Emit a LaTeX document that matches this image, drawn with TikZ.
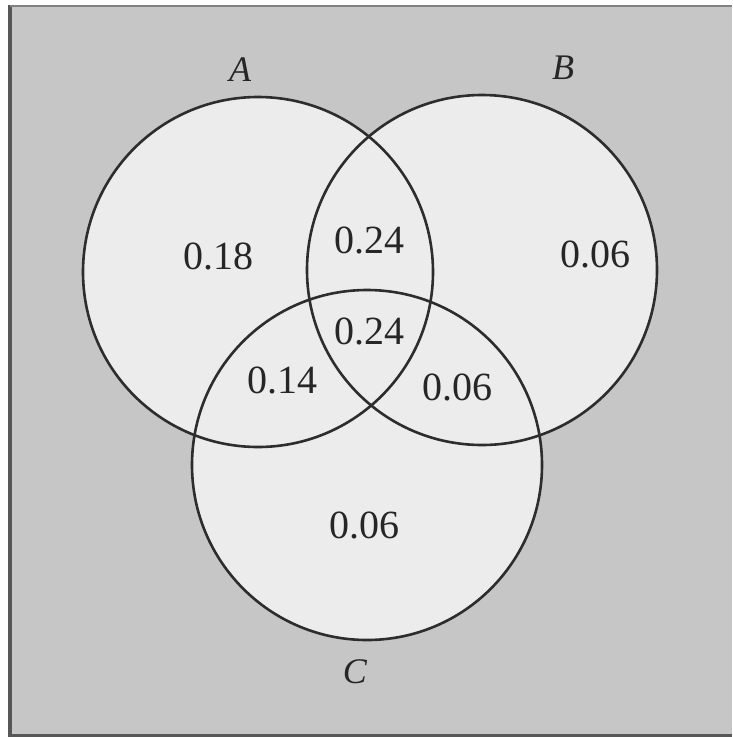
\documentclass[tikz,border=0pt]{standalone}
\usepackage{fontspec}
\setmainfont{Liberation Serif}
\usepackage{tikz}
\definecolor{paperbg}{RGB}{198, 198, 198}
\definecolor{setfill}{RGB}{236, 236, 236}
\definecolor{inkline}{RGB}{45, 45, 45}

\begin{document}
\begin{tikzpicture}[
  x=1pt, y=-1pt,
  setcirc/.style={draw=inkline, circle, line width=2.6pt, minimum size=350pt, inner sep=0pt},
  prob/.style={font=\fontsize{40}{44}\selectfont, text=black!85},
  setname/.style={font=\fontsize{36}{40}\selectfont\itshape, text=black!85}
]
\useasboundingbox (0,0) rectangle (732,737);

% paper
\fill[white] (0,0) rectangle (732,737);
\fill[paperbg] (8,5) rectangle (732,737);
\draw[inkline!80, line width=4pt] (10,5) -- (10,737);
\draw[inkline!60, line width=2pt] (10,6) -- (732,6);
\draw[inkline!80, line width=3pt] (10,735) -- (732,735);

% centres
\coordinate (cA) at (258,272);
\coordinate (cB) at (482,270);
\coordinate (cC) at (367,465);

% fill first, outlines after
\foreach \c in {cA,cB,cC}
  \fill[setfill] (\c) circle[radius=175pt];

\node[setcirc] (setA) at (cA) {};
\node[setcirc] (setB) at (cB) {};
\node[setcirc] (setC) at (cC) {};

% set names
\node[setname] (nameA) at (240,70) {A};
\node[setname] (nameB) at (563,68) {B};
\node[setname] (nameC) at (355,672) {C};

% probabilities
\node[prob] (pA)   at (218,256) {0.18};
\node[prob] (pAB)  at (369,240) {0.24};
\node[prob] (pB)   at (595,254) {0.06};
\node[prob] (pABC) at (369,331) {0.24};
\node[prob] (pAC)  at (282,380) {0.14};
\node[prob] (pBC)  at (457,387) {0.06};
\node[prob] (pC)   at (364,525) {0.06};

\end{tikzpicture}
\end{document}
